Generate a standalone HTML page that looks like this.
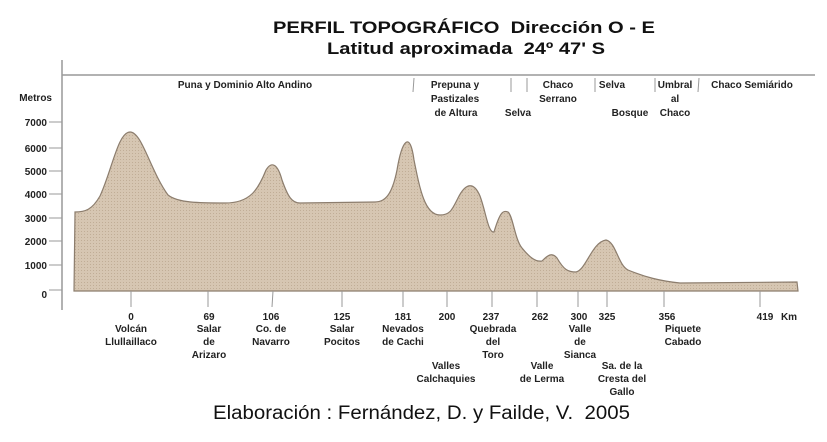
<!DOCTYPE html>
<html><head><meta charset="utf-8"><style>
html,body{margin:0;padding:0;background:#fff;}
svg{display:block}
.t{font-family:"Liberation Sans",sans-serif;font-weight:bold;fill:#111}
.s{font-family:"Liberation Sans Narrow","Liberation Sans",sans-serif;font-weight:bold;font-size:10px;fill:#222;text-anchor:middle}
.y{font-family:"Liberation Sans",sans-serif;font-weight:bold;font-size:10px;fill:#222;text-anchor:end}
</style></head><body>
<svg width="827" height="442" viewBox="0 0 827 442">
<defs>
<pattern id="p" width="3" height="3" patternUnits="userSpaceOnUse">
<rect width="3" height="3" fill="#d6c6b2"/><rect width="1" height="1" fill="#c0ad96"/>
</pattern>
</defs>
<text class="t" x="273" y="33" font-size="17" textLength="382" lengthAdjust="spacingAndGlyphs">PERFIL TOPOGRÁFICO&#160; Dirección O - E</text>
<text class="t" x="327" y="54" font-size="17" textLength="278" lengthAdjust="spacingAndGlyphs">Latitud aproximada&#160; 24º 47' S</text>
<line x1="62" y1="75" x2="815" y2="75" stroke="#999" stroke-width="1.5"/>
<line x1="62" y1="60" x2="62" y2="310" stroke="#999" stroke-width="1.5"/>
<g stroke="#999" stroke-width="1">
<line x1="414" y1="78" x2="413" y2="92"/><line x1="511" y1="78" x2="511" y2="92"/><line x1="527" y1="78" x2="527" y2="92"/>
<line x1="595" y1="78" x2="595" y2="92"/><line x1="655" y1="78" x2="655" y2="92"/><line x1="699" y1="78" x2="698" y2="92"/>
</g>
<g class="s" style="font-size:10px">
<text x="245" y="88">Puna y Dominio Alto Andino</text>
<text x="455" y="88">Prepuna y</text><text x="455" y="102">Pastizales</text><text x="456" y="116">de Altura</text>
<text x="518" y="116">Selva</text>
<text x="558" y="88">Chaco</text><text x="558" y="102">Serrano</text>
<text x="612" y="88">Selva</text><text x="630" y="116">Bosque</text>
<text x="675" y="88">Umbral</text><text x="675" y="102">al</text><text x="675" y="116">Chaco</text>
<text x="752" y="88">Chaco Semiárido</text>
</g>
<text class="y" x="52" y="101">Metros</text>
<g class="y">
<text x="47" y="126">7000</text><text x="47" y="152">6000</text><text x="47" y="175">5000</text>
<text x="47" y="198">4000</text><text x="47" y="222">3000</text><text x="47" y="245">2000</text>
<text x="47" y="269">1000</text><text x="47" y="298">0</text>
</g>
<g stroke="#999" stroke-width="1">
<line x1="49" y1="122" x2="62" y2="122"/><line x1="49" y1="148" x2="62" y2="148"/><line x1="49" y1="171" x2="62" y2="171"/>
<line x1="49" y1="194" x2="62" y2="194"/><line x1="49" y1="218" x2="62" y2="218"/><line x1="49" y1="241" x2="62" y2="241"/>
<line x1="49" y1="265" x2="62" y2="265"/><line x1="49" y1="290" x2="62" y2="290"/>
</g>
<path d="M74,291 L75,212 C85,212 92,210 100,196 C112,170 118,132 130,132 C142,132 150,170 168,195 C178,203 200,203 225,203 C250,203 258,190 266,170 C272,160 278,165 282,180 C288,197 292,203 300,203 L375,202 C385,202 392,195 397,170 C402,140 410,130 414,160 C420,190 425,215 440,215 C450,215 452,210 458,198 C466,182 474,182 480,196 C486,212 488,233 494,232 C500,212 503,210 508,212 C513,216 515,240 522,248 C530,258 536,262 542,261 C548,255 552,252 557,258 C564,270 568,272 576,272 C586,270 592,242 606,240 C616,242 618,265 628,270 C645,277 660,281 680,283 L797,282 L798,291 Z" fill="url(#p)" stroke="#8c7d6d" stroke-width="1.2"/>
<g stroke="#999" stroke-width="1">
<line x1="131" y1="291" x2="131" y2="307"/><line x1="208" y1="291" x2="208" y2="307"/><line x1="273" y1="291" x2="272" y2="307"/>
<line x1="342" y1="291" x2="342" y2="307"/><line x1="403" y1="291" x2="403" y2="307"/><line x1="447" y1="291" x2="447" y2="307"/>
<line x1="492" y1="291" x2="492" y2="307"/><line x1="537" y1="291" x2="537" y2="307"/><line x1="578" y1="291" x2="578" y2="307"/>
<line x1="607" y1="291" x2="607" y2="307"/><line x1="664" y1="291" x2="664" y2="307"/><line x1="760" y1="291" x2="760" y2="307"/>
</g>
<g class="s">
<text x="131" y="320">0</text><text x="131" y="332">Volcán</text><text x="131" y="345">Llullaillaco</text>
<text x="209" y="320">69</text><text x="209" y="332">Salar</text><text x="209" y="345">de</text><text x="209" y="358">Arizaro</text>
<text x="271" y="320">106</text><text x="271" y="332">Co. de</text><text x="271" y="345">Navarro</text>
<text x="342" y="320">125</text><text x="342" y="332">Salar</text><text x="342" y="345">Pocitos</text>
<text x="403" y="320">181</text><text x="403" y="332">Nevados</text><text x="403" y="345">de Cachi</text>
<text x="447" y="320">200</text><text x="446" y="369">Valles</text><text x="446" y="382">Calchaquies</text>
<text x="491" y="320">237</text><text x="493" y="332">Quebrada</text><text x="493" y="345">del</text><text x="493" y="358">Toro</text>
<text x="540" y="320">262</text><text x="542" y="369">Valle</text><text x="542" y="382">de Lerma</text>
<text x="579" y="320">300</text><text x="580" y="332">Valle</text><text x="580" y="345">de</text><text x="580" y="358">Sianca</text>
<text x="607" y="320">325</text><text x="622" y="369">Sa. de la</text><text x="622" y="382">Cresta del</text><text x="622" y="395">Gallo</text>
<text x="667" y="320">356</text><text x="683" y="332">Piquete</text><text x="683" y="345">Cabado</text>
<text x="765" y="320">419</text><text x="789" y="320">Km</text>
</g>
<text x="213" y="419" font-family="Liberation Sans,sans-serif" font-size="19" fill="#111" textLength="417" lengthAdjust="spacingAndGlyphs">Elaboración : Fernández, D. y Failde, V.&#160; 2005</text>
</svg>
</body></html>
